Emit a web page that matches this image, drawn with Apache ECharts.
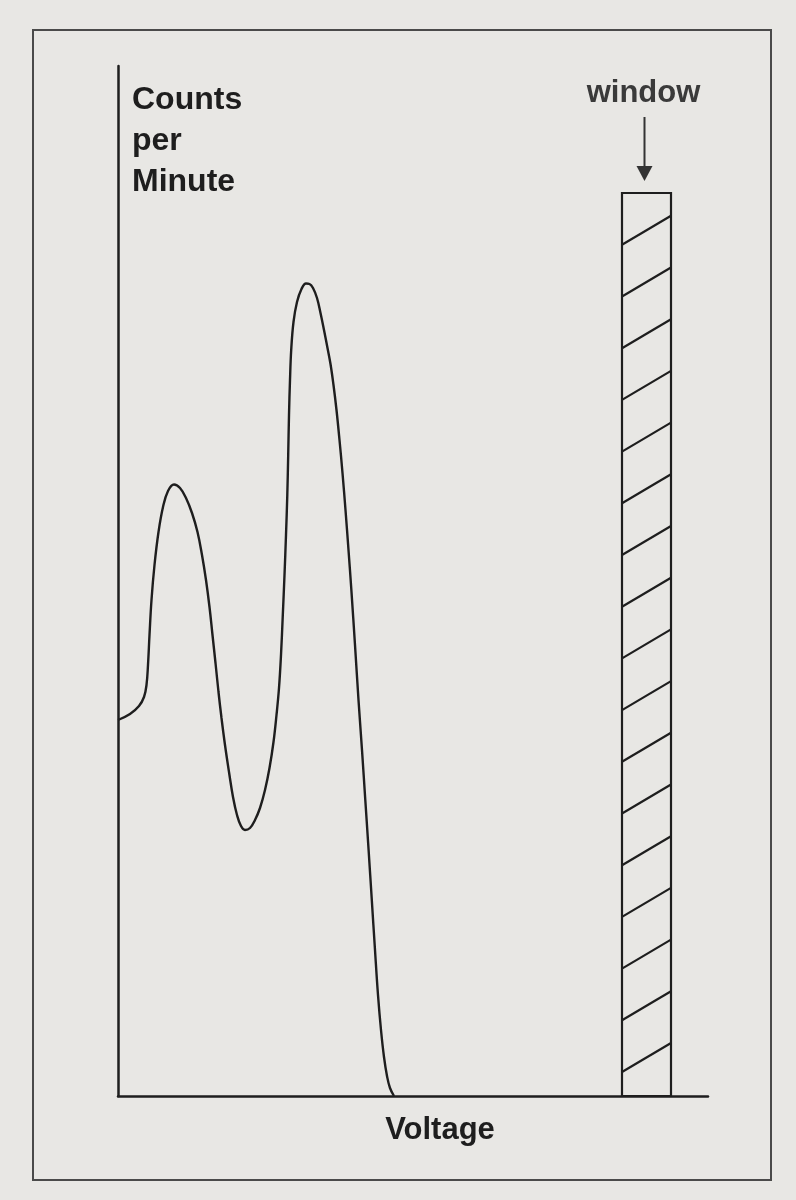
<!DOCTYPE html>
<html><head><meta charset="utf-8">
<script src="https://cdn.jsdelivr.net/npm/echarts@6/dist/echarts.min.js"></script>
<style>html,body{margin:0;padding:0;background:#e8e7e4;} #c{width:796px;height:1200px;}</style>
</head><body><div id="c"></div>
<script>
// Pulse-height spectrum (arbitrary units)
const voltage = [0, 1.2, 2.1, 2.6, 2.85, 3.0, 3.15, 3.35, 3.65, 4.05, 4.5, 5.0, 5.6, 6.2, 6.8, 7.4, 7.95, 8.4, 8.8, 9.15, 9.45, 9.75, 10.05, 10.35, 10.7, 11.1, 11.5, 11.9, 12.3, 12.7, 13.2, 13.7, 14.2, 14.7, 15.15, 15.55, 15.85, 16.1, 16.3, 16.48, 16.65, 16.8, 16.93, 17.02, 17.1, 17.2, 17.32, 17.55, 17.9, 18.35, 18.8, 19.15, 19.5, 19.9, 20.25, 20.6, 20.95, 21.25, 21.55, 21.85, 22.15, 22.45, 22.75, 23.05, 23.35, 23.7, 24.05, 24.4, 24.73, 25.06, 25.38, 25.7, 26.0, 26.3, 26.6, 26.9, 27.2, 27.6];
const countsPerMinute = [37.6, 38.2, 39.0, 39.9, 41.1, 43.1, 46.1, 49.6, 53.1, 56.4, 58.9, 60.5, 61.15, 60.8, 59.8, 58.3, 56.4, 54.1, 51.6, 48.9, 46.1, 43.3, 40.4, 37.8, 35.1, 32.4, 29.9, 28.1, 27.0, 26.6, 26.8, 27.6, 28.8, 30.6, 32.8, 35.4, 38.1, 40.8, 44.1, 48.1, 52.1, 56.1, 60.1, 64.1, 68.1, 71.6, 74.6, 77.4, 79.4, 80.7, 81.25, 81.2, 80.8, 79.8, 78.3, 76.6, 74.8, 73.2, 71.1, 68.6, 65.6, 62.3, 58.6, 54.6, 50.4, 45.1, 39.6, 34.6, 29.6, 24.6, 19.6, 14.6, 10.1, 6.6, 3.9, 2.0, 0.8, 0];
// Counting window (voltage from, voltage to, drawn height)
const windowLow = 50.4;
const windowHigh = 55.3;
const windowTop = 90.3;
const xMax = 59;
const yMax = 103;
const xLabel = 'Voltage';
const yLabel = 'Counts\nper\nMinute';
const windowLabel = 'window';

const spectrum = voltage.map((v, i) => [v, countsPerMinute[i]]);
const ink = '#1e1e1e';
const font = '"Liberation Sans", Arial, Helvetica, sans-serif';

const chart = echarts.init(document.getElementById('c'));
chart.setOption({
  backgroundColor: '#e8e7e4',
  animation: false,
  grid: { left: 118, right: 88, top: 66, bottom: 104 },
  xAxis: {
    type: 'value', min: 0, max: xMax,
    axisLine: { show: true, lineStyle: { color: ink, width: 2.5 } },
    axisTick: { show: false }, axisLabel: { show: false }, splitLine: { show: false }
  },
  yAxis: {
    type: 'value', min: 0, max: yMax,
    axisLine: { show: true, lineStyle: { color: ink, width: 2.5 } },
    axisTick: { show: false }, axisLabel: { show: false }, splitLine: { show: false }
  },
  series: [
    {
      type: 'line', data: spectrum, smooth: 0.4, showSymbol: false,
      lineStyle: { color: ink, width: 2.4 }, z: 3
    },
    {
      type: 'custom', z: 3,
      data: [[windowLow, windowHigh, windowTop]],
      renderItem: function (params, api) {
        const p0 = api.coord([api.value(0), 0]);
        const p1 = api.coord([api.value(1), api.value(2)]);
        const x0 = p0[0], x1 = p1[0], yb = p0[1], yt = p1[1];
        const children = [{
          type: 'rect', shape: { x: x0, y: yt, width: x1 - x0, height: yb - yt },
          style: { fill: 'none', stroke: ink, lineWidth: 2.2 }
        }];
        const step = 51.7, rise = 29;
        for (let yl = yb - 24; yl - rise > yt; yl -= step) {
          children.push({ type: 'line', shape: { x1: x0, y1: yl, x2: x1, y2: yl - rise },
            style: { stroke: ink, lineWidth: 2.2 } });
        }
        return { type: 'group', children: children };
      }
    }
  ]
});

const winTopPx = chart.convertToPixel({ gridIndex: 0 }, [(windowLow + windowHigh) / 2, windowTop]);
const cx = winTopPx[0] - 2, ty = winTopPx[1];
chart.setOption({
  graphic: [
    { type: 'rect', shape: { x: 33, y: 30, width: 738, height: 1150 },
      style: { fill: 'none', stroke: '#4a4a4a', lineWidth: 2 }, z: 1 },
    { type: 'text', x: 132, y: 80,
      style: { text: yLabel, font: 'bold 32px ' + font, fill: ink, lineHeight: 41 } },
    { type: 'text', x: 440, y: 1130,
      style: { text: xLabel, font: 'bold 31px ' + font, fill: ink, align: 'center', verticalAlign: 'middle' } },
    { type: 'text', x: cx - 1, y: ty - 100,
      style: { text: windowLabel, font: 'bold 31px ' + font, fill: '#3a3a3a', align: 'center', verticalAlign: 'middle' } },
    { type: 'line', shape: { x1: cx, y1: ty - 76, x2: cx, y2: ty - 20 },
      style: { stroke: '#333', lineWidth: 2 } },
    { type: 'polygon', shape: { points: [[cx - 8, ty - 27], [cx + 8, ty - 27], [cx, ty - 12]] },
      style: { fill: '#333' } }
  ]
});
</script>
</body></html>
